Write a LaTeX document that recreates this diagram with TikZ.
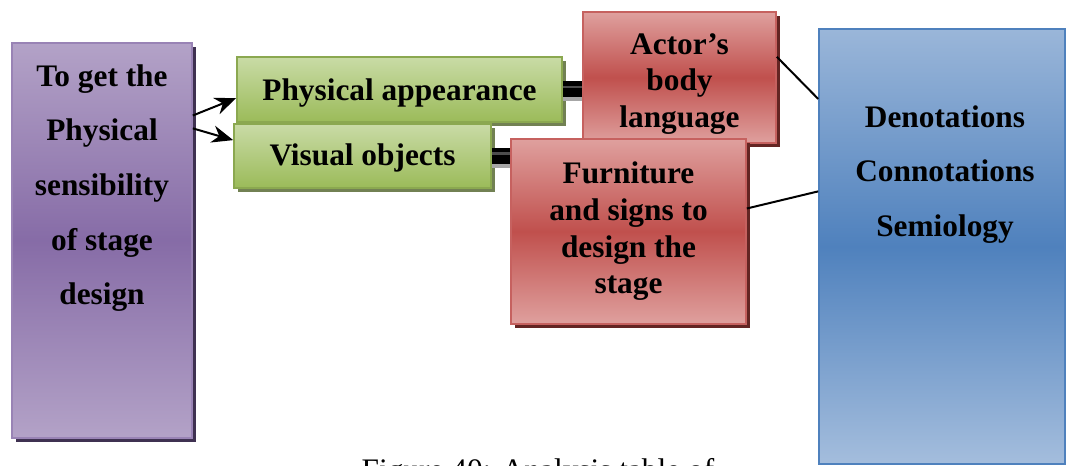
\documentclass[tikz,border=0pt]{standalone}
\usepackage{fontspec}
\setmainfont{Liberation Serif}
\usetikzlibrary{shadows,arrows.meta}

\definecolor{purpleLight}{HTML}{B3A2C7}
\definecolor{purpleMid}{HTML}{8064A2}
\definecolor{purpleDark}{HTML}{3F3151}
\definecolor{greenLight}{HTML}{C9DBA6}
\definecolor{greenMid}{HTML}{9BBB59}
\definecolor{greenDark}{HTML}{4F6228}
\definecolor{redLight}{HTML}{DFA09E}
\definecolor{redMid}{HTML}{C0504D}
\definecolor{redDark}{HTML}{632523}
\definecolor{blueLight}{HTML}{9AB6D9}
\definecolor{blueMid}{HTML}{4F81BD}

\tikzset{
  box/.style={rectangle, inner sep=0pt, align=center, line width=1.2pt,
    font=\fontsize{23.5}{27.5}\selectfont\bfseries},
  purplebox/.style={box, draw=purpleMid!80, top color=purpleLight,
    bottom color=purpleLight, middle color=purpleMid!95,
    drop shadow={shadow xshift=3pt, shadow yshift=-3pt, fill=purpleDark, opacity=1}},
  greenbox/.style={box, draw=greenMid!90!black, top color=greenLight,
    bottom color=greenMid,
    drop shadow={shadow xshift=3pt, shadow yshift=-3pt, fill=greenDark!80, opacity=1}},
  redbox/.style={box, draw=redMid!90!white, top color=redLight,
    bottom color=redLight, middle color=redMid,
    drop shadow={shadow xshift=3pt, shadow yshift=-3pt, fill=redDark, opacity=1}},
  bluebox/.style={box, draw=blueMid, top color=blueLight,
    bottom color=blueLight!90, middle color=blueMid},
  bar/.style={line width=12pt, black,
    preaction={draw=gray!70, line width=12pt, transform canvas={yshift=-3pt}},
    postaction={draw=black!70, line width=1.8pt, transform canvas={yshift=2pt}}},
  link/.style={line width=1.5pt, black},
  tip/.style={-{Stealth[length=16pt, width=13pt]}},
}

\begin{document}
\begin{tikzpicture}[x=0.75pt, y=-0.75pt]
    \useasboundingbox (0,0) rectangle (1069,466);

    % Подпись (обрезана снизу)
    \node[anchor=base west, font=\fontsize{23.5}{27.5}\selectfont] (cap) at (357,480)
      {Figure 40: Analysis table of};

    % Левый блок
    \node[purplebox, minimum width=180pt*0.75, minimum height=395pt*0.75]
      (goal) at (102,240.5) {};
    \node[box, font=\fontsize{23.5}{41}\selectfont\bfseries, anchor=north]
      (goaltxt) at (102,63.5) {To get the\\Physical\\sensibility\\of stage\\design};

    % Зелёные блоки
    \node[greenbox, minimum width=325pt*0.75, minimum height=65pt*0.75]
      (look) at (399.5,89.5) {\rule{0pt}{22pt}Physical appearance};
    \node[greenbox, minimum width=257pt*0.75, minimum height=64pt*0.75]
      (objects) at (362.5,156) {\rule{0pt}{19pt}Visual objects};

    % Красные блоки
    \node[redbox, minimum width=193pt*0.75, minimum height=131pt*0.75]
      (actor) at (679.5,77.5) {\rule{0pt}{25pt}Actor's\\body\\language};
    \node[redbox, minimum width=235pt*0.75, minimum height=185pt*0.75]
      (props) at (628.5,231.5) {Furniture\\and signs to\\design the\\stage};

    % Правый блок
    \node[bluebox, minimum width=246pt*0.75, minimum height=435pt*0.75]
      (codes) at (942,246.5) {};
    \node[box, font=\fontsize{23.5}{41}\selectfont\bfseries, anchor=north]
      (codestxt) at (945,104.5) {Denotations\\Connotations\\Semiology};

    % Стрелки к зелёным блокам
    \draw[tip, link] (goal.54) -- (look.183);
    \draw[tip, link] (goal.51) -- (objects.173);

    % Перемычки
    \draw[bar] (look.east) -- (look.east -| actor.west);
    \draw[bar] (objects.east) -- (objects.east -| props.west);

    % Линии к правому блоку
    \draw[link] (actor.12) -- (codes.130);
    \draw[link] (props.11) -- (codes.156);
\end{tikzpicture}
\end{document}
